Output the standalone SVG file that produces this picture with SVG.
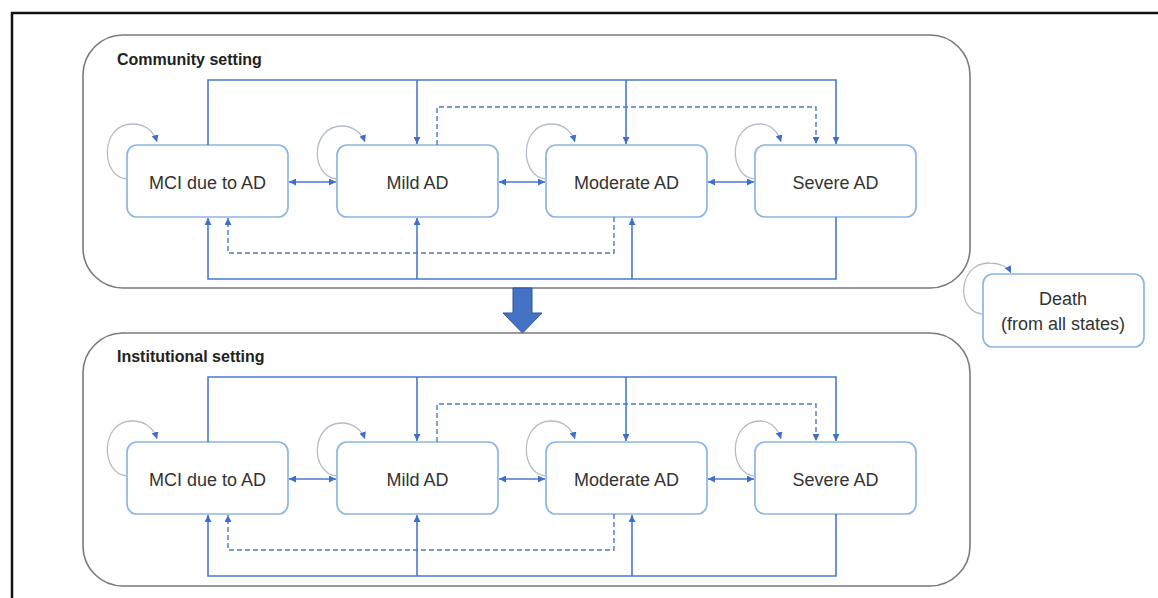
<svg xmlns="http://www.w3.org/2000/svg" width="1158" height="598" viewBox="0 0 1158 598">
<defs>
<marker id="ah" viewBox="0 0 10 10" refX="10" refY="5" markerWidth="7" markerHeight="7" markerUnits="userSpaceOnUse" orient="auto-start-reverse">
<path d="M0,0 L10,5 L0,10 z" fill="#3f6fc6"/>
</marker>
<style>
.frame{fill:none;stroke:#111;stroke-width:2.5}
.cont{fill:#fff;stroke:#7a7a7a;stroke-width:1.6}
.node{fill:#fff;stroke:#8cb6e4;stroke-width:1.7}
.lbl{font-family:"Liberation Sans",Arial,sans-serif;font-size:18px;fill:#333;text-anchor:middle}
.ttl{font-family:"Liberation Sans",Arial,sans-serif;font-size:16px;font-weight:bold;fill:#222}
.c{fill:none;stroke:#4a78cc;stroke-width:1.6}
.d{fill:none;stroke:#4a78cc;stroke-width:1.4;stroke-dasharray:5 3}
.loop{fill:none;stroke:#b4bcc8;stroke-width:1.3}
</style>
</defs>
<path class="frame" d="M12,598 V13 H1158"/>

<g id="community">
<rect class="cont" x="83" y="35" width="887" height="253" rx="40"/>
<text class="ttl" x="117" y="65">Community setting</text>
</g>
<g id="institutional">
<rect class="cont" x="83" y="333" width="887" height="253" rx="40"/>
<text class="ttl" x="117" y="362">Institutional setting</text>
</g>

<g id="transfer-arrow">
<path d="M513,288 H532 V313 H542 L522.5,333 L503,313 H513 Z" fill="#4472c4" stroke="#2f5597" stroke-width="1"/>
</g>

<g id="c-mci"><rect class="node" x="127" y="145" width="161" height="72" rx="10"/><text class="lbl" x="207.5" y="189">MCI due to AD</text></g>
<g id="c-mild"><rect class="node" x="337" y="145" width="161" height="72" rx="10"/><text class="lbl" x="417.5" y="189">Mild AD</text></g>
<g id="c-moderate"><rect class="node" x="546" y="145" width="161" height="72" rx="10"/><text class="lbl" x="626.5" y="189">Moderate AD</text></g>
<g id="c-severe"><rect class="node" x="755" y="145" width="161" height="72" rx="10"/><text class="lbl" x="835.5" y="189">Severe AD</text></g>

<g id="i-mci"><rect class="node" x="127" y="442" width="161" height="72" rx="10"/><text class="lbl" x="207.5" y="486">MCI due to AD</text></g>
<g id="i-mild"><rect class="node" x="337" y="442" width="161" height="72" rx="10"/><text class="lbl" x="417.5" y="486">Mild AD</text></g>
<g id="i-moderate"><rect class="node" x="546" y="442" width="161" height="72" rx="10"/><text class="lbl" x="626.5" y="486">Moderate AD</text></g>
<g id="i-severe"><rect class="node" x="755" y="442" width="161" height="72" rx="10"/><text class="lbl" x="835.5" y="486">Severe AD</text></g>

<g id="death"><rect class="node" x="983" y="274" width="161" height="73" rx="10"/><text class="lbl" x="1063" y="305">Death</text><text class="lbl" x="1063" y="330">(from all states)</text></g>

<g id="connectors">
<g id="community-connectors">
<path class="c" d="M208,145 V80 H836 V144" marker-end="url(#ah)"/>
<path class="c" d="M417,80 V144" marker-end="url(#ah)"/>
<path class="c" d="M626,80 V144" marker-end="url(#ah)"/>
<path class="d" d="M437,145 V107 H816 V144" marker-end="url(#ah)"/>
<path class="c" d="M836,217 V279 H208 V218" marker-end="url(#ah)"/>
<path class="c" d="M417,279 V218" marker-end="url(#ah)"/>
<path class="c" d="M632,279 V218" marker-end="url(#ah)"/>
<path class="d" d="M614,217 V253 H228 V218" marker-end="url(#ah)"/>
<path class="c" d="M289,182 H336" marker-start="url(#ah)" marker-end="url(#ah)"/>
<path class="c" d="M499,182 H545" marker-start="url(#ah)" marker-end="url(#ah)"/>
<path class="c" d="M708,182 H754" marker-start="url(#ah)" marker-end="url(#ah)"/>
<path class="loop" d="M127,179 C100,177 100,124 132,124 C146,124 154,132 157,142" marker-end="url(#ah)"/>
<path class="loop" d="M337,179 C310,177 310,126 342,126 C354,126 362,134 365,142" marker-end="url(#ah)"/>
<path class="loop" d="M546,179 C519,177 519,124 551,124 C564,124 572,132 575,142" marker-end="url(#ah)"/>
<path class="loop" d="M755,179 C728,177 728,124 760,124 C771,124 778,132 781,142" marker-end="url(#ah)"/>
</g>
<g id="institutional-connectors">
<path class="c" d="M208,442 V377 H836 V441" marker-end="url(#ah)"/>
<path class="c" d="M417,377 V441" marker-end="url(#ah)"/>
<path class="c" d="M626,377 V441" marker-end="url(#ah)"/>
<path class="d" d="M437,442 V404 H816 V441" marker-end="url(#ah)"/>
<path class="c" d="M836,514 V576 H208 V515" marker-end="url(#ah)"/>
<path class="c" d="M417,576 V515" marker-end="url(#ah)"/>
<path class="c" d="M632,576 V515" marker-end="url(#ah)"/>
<path class="d" d="M614,514 V550 H228 V515" marker-end="url(#ah)"/>
<path class="c" d="M289,479 H336" marker-start="url(#ah)" marker-end="url(#ah)"/>
<path class="c" d="M499,479 H545" marker-start="url(#ah)" marker-end="url(#ah)"/>
<path class="c" d="M708,479 H754" marker-start="url(#ah)" marker-end="url(#ah)"/>
<path class="loop" d="M127,476 C100,474 100,421 132,421 C146,421 154,429 157,439" marker-end="url(#ah)"/>
<path class="loop" d="M337,476 C310,474 310,423 342,423 C354,423 362,431 365,439" marker-end="url(#ah)"/>
<path class="loop" d="M546,476 C519,474 519,421 551,421 C564,421 572,429 575,439" marker-end="url(#ah)"/>
<path class="loop" d="M755,476 C728,474 728,421 760,421 C771,421 778,429 781,439" marker-end="url(#ah)"/>
</g>
<path class="loop" d="M982,314 C955,311 958,262 990,263 C1000,263 1008,267 1011,273" marker-end="url(#ah)"/>
</g>
</svg>
